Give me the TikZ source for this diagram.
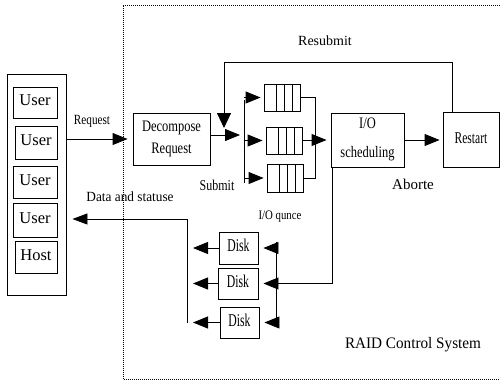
\documentclass[tikz,border=0pt]{standalone}
\usepackage{fontspec}
\setmainfont{Liberation Serif}
\usepackage{graphicx}
\usetikzlibrary{arrows.meta}
\newcommand\tx[3]{\scalebox{#1}[1]{\fontsize{#2}{#2}\selectfont\begin{tabular}{@{}c@{}}#3\end{tabular}}}
\begin{document}
\begin{tikzpicture}[x=1pt,y=-1pt,line width=0.9pt,
  box/.style={draw,inner sep=0pt,line width=0.9pt},
  queue/.style={draw,inner sep=0pt,minimum width=36pt,minimum height=27pt,
    path picture={\foreach \f in {12,20,28}{\draw ([xshift=\f pt]path picture bounding box.north west) -- ([xshift=\f pt]path picture bounding box.south west);}}},
  arr/.style={-{Triangle[length=15pt,width=12pt]}},
  arrd/.style={-{Triangle[length=15pt,width=14pt]}},
  dotline/.style={line width=0.8pt,dash pattern=on 0.9pt off 1.1pt},
  lbl/.style={inner sep=0pt}]
\fill[white] (0,0) rectangle (500,384);
\useasboundingbox (0,0) rectangle (500,384);
% outer dotted frame
\draw[dotline] (500,5) -- (123,5) -- (123,379) -- (500,379);
% host side
\node[box,minimum width=59pt,minimum height=221pt] (hb) at (36.5,184.5) {};
\node[box,minimum width=44pt,minimum height=31pt] (u1) at (35,102.5) {\tx{1}{16.5}{User}};
\node[box,minimum width=42pt,minimum height=33pt] (u2) at (36,142.5) {\tx{1}{16.5}{User}};
\node[box,minimum width=44pt,minimum height=32pt] (u3) at (35,182) {\tx{1}{16.5}{User}};
\node[box,minimum width=44pt,minimum height=34pt] (u4) at (35,220) {\tx{1}{16.5}{User}};
\node[box,minimum width=42pt,minimum height=32pt] (ho) at (36,257) {\tx{1}{16.5}{Host}};
% main boxes
\node[box,minimum width=77pt,minimum height=52pt] (dec) at (171.5,139) {\tx{0.78}{16}{Decompose\\[6pt]Request}};
\node[queue] (q1) at (282,97.5) {};
\node[queue] (q2) at (284,140.5) {};
\node[queue,minimum height=28pt] (q3) at (285,178) {};
\node[box,minimum width=73pt,minimum height=54pt] (io) at (367.5,140) {\tx{0.78}{16}{I/O\\[13pt]scheduling}};
\node[box,minimum width=56pt,minimum height=55pt] (rs) at (471,140) {\tx{0.7}{16.5}{Restart}};
\node[box,minimum width=39pt,minimum height=32pt] (d1) at (238.5,248) {\tx{0.65}{18}{Disk}};
\node[box,minimum width=40pt,minimum height=31pt] (d2) at (238,283.5) {\tx{0.65}{18}{Disk}};
\node[box,minimum width=39pt,minimum height=31pt] (d3) at (239.5,322.5) {\tx{0.65}{18}{Disk}};
% labels
\node[lbl] (lreq) at (92,122) {\tx{0.8}{14}{Request}};
\node[lbl] (lres) at (325,43) {\tx{1}{14}{Resubmit}};
\node[lbl] (lsub) at (217,187) {\tx{0.8}{15}{Submit}};
\node[lbl] (labo) at (413,186) {\tx{1}{15}{Aborte}};
\node[lbl] (lioq) at (280,217) {\tx{0.83}{13}{I/O qunce}};
\node[lbl] (ldat) at (130,199) {\tx{0.95}{14}{Data and statuse}};
\node[lbl] (lraid) at (413,345) {\tx{0.95}{16}{RAID Control System}};
% request
\draw[arr,shorten >=5pt] (hb.east |- dec.west) -- (dec.west);
% submit
\coordinate (sub) at (240,135);
\draw[arr] (dec.east |- sub) -- (sub);
% resubmit loop
\coordinate (rtop) at (224,62);
\coordinate (rsb) at (224,128);
\draw[arrd] ([xshift=-19pt]rs.north) |- (rtop) -- (rsb);
% queue bus
\coordinate (bt) at (244,100);
\coordinate (bb) at (244,183);
\draw (bt) -- (bb);
\foreach \q in {q1,q2,q3}{\draw[arr,shorten >=3pt] (bt |- \q.west) -- (\q.west);}
% merge to I/O
\coordinate (mx) at (315,140);
\draw (q1.east) -- (q1.east -| mx) -- (q3.east -| mx) -- (q3.east);
\draw (q2.east) -- (q2.east -| mx);
\draw[arr,shorten >=4pt] (io.west -| mx) -- (io.west);
% I/O to restart
\draw[arr,shorten >=3pt] (io.east) -- (rs.west);
% I/O to disks
\coordinate (iob) at ([xshift=2pt]io.south west);
\coordinate (rb) at (276,283);
\coordinate (rbt) at (276,242);
\coordinate (rbb) at (276,322);
\draw (iob) |- (rb);
\draw (rbt) -- (rbb);
\foreach \d in {d1,d2,d3}{\draw[arr,shorten >=5pt] (rb |- \d.east) -- (\d.east);}
% disks back to host
\coordinate (lbt) at (187,219);
\coordinate (lbb) at (187,323);
\draw (lbt) -- (lbb);
\foreach \d in {d1,d2,d3}{\draw[arr,shorten >=6pt] (\d.west) -- (\d.west -| lbt);}
\draw[arr,shorten >=6pt,-{Triangle[length=15pt,width=11pt]}] (lbt) -- (hb.east |- lbt);
\end{tikzpicture}
\end{document}
